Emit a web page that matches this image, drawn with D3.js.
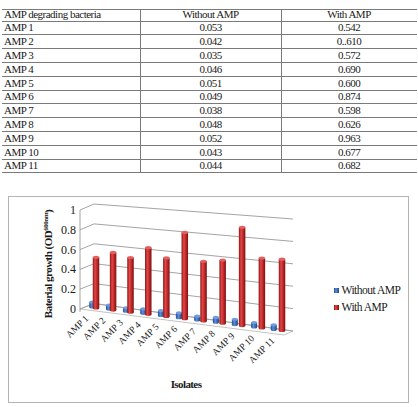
<!DOCTYPE html>
<html>
<head>
<meta charset="utf-8">
<script src="https://cdn.jsdelivr.net/npm/d3@7"></script>
<style>
  html, body { margin: 0; padding: 0; background: #fff; }
  svg { display: block; }
  .serif { font-family: "Liberation Serif", "Times New Roman", serif; fill: #1a1a1a; }
</style>
</head>
<body>
<svg id="chart" width="418" height="407"></svg>
<script>
const isolates = ["AMP 1", "AMP 2", "AMP 3", "AMP 4", "AMP 5", "AMP 6", "AMP 7", "AMP 8", "AMP 9", "AMP 10", "AMP 11"];
const withoutAmp = [0.053, 0.042, 0.035, 0.046, 0.051, 0.049, 0.038, 0.048, 0.052, 0.043, 0.044];
const withAmp = [0.542, 0.610, 0.572, 0.690, 0.600, 0.874, 0.598, 0.626, 0.963, 0.677, 0.682];
const seriesNames = ["Without AMP", "With AMP"];
const tableHeader = ["AMP degrading bacteria", "Without AMP", "With AMP"];
const yTicks = [0, 0.2, 0.4, 0.6, 0.8, 1];

const svg = d3.select("#chart");
const fmt = d3.format(".3f");

// ---------- table ----------
const colX = [2, 140, 281, 417];
const rowY = d3.scaleLinear().domain([0, isolates.length]).range([20.5, 172.3]);
const table = svg.append("g");

// horizontal rules
const ruleYs = [9].concat(d3.range(isolates.length + 1).map(i => rowY(i)));
table.selectAll("line.h").data(ruleYs).join("line")
    .attr("x1", colX[0]).attr("x2", colX[3])
    .attr("y1", d => Math.round(d) + 0.5).attr("y2", d => Math.round(d) + 0.5)
    .attr("stroke", "#7a7a7a").attr("stroke-width", 1);

// column dividers
table.selectAll("line.v").data([colX[1], colX[2]]).join("line")
    .attr("x1", d => d + 0.5).attr("x2", d => d + 0.5)
    .attr("y1", 9.5).attr("y2", Math.round(rowY(isolates.length)) + 0.5)
    .attr("stroke", "#7a7a7a");

function cellText(x, y, txt, anchor) {
    table.append("text").attr("class", "serif")
        .attr("x", x).attr("y", y)
        .attr("text-anchor", anchor)
        .attr("font-size", 11).attr("letter-spacing", "-0.5px")
        .text(txt);
}
cellText(4, 18, tableHeader[0], "start");
cellText((colX[1] + colX[2]) / 2, 18, tableHeader[1], "middle");
cellText((colX[2] + colX[3]) / 2, 18, tableHeader[2], "middle");

isolates.forEach((name, i) => {
    const y = (rowY(i) + rowY(i + 1)) / 2 + 4;
    cellText(4, y, name, "start");
    cellText((colX[1] + colX[2]) / 2, y, fmt(withoutAmp[i]), "middle");
    // the source table prints this value with a double dot
    cellText((colX[2] + colX[3]) / 2, y, i === 1 ? "0..610" : fmt(withAmp[i]), "middle");
});

// ---------- chart ----------
const chart = svg.append("g");
chart.append("rect")
    .attr("x", 8.5).attr("y", 196.5).attr("width", 400).attr("height", 206)
    .attr("fill", "#fff").attr("stroke", "#b4b4b4");

// perspective helpers
const warp = u => 0.9 * u + 0.1 * u * u;
const band = d3.scaleBand().domain(isolates).range([0, 1]);
const xPx = d3.scaleLinear().domain([0, 1]).range([85.6, 290.2]);
const basePx = d3.scaleLinear().domain([0, 1]).range([307, 331.6]);
const unitPx = d3.scaleLinear().domain([0, 1]).range([93, 105]);
const yLeft = d3.scaleLinear().domain([0, 1]).range([309, 210]);
const yBackL = d3.scaleLinear().domain([0, 1]).range([303.5, 204]);
const yBackR = d3.scaleLinear().domain([0, 1]).range([331, 219]);
const wallX = 80, backX0 = 94, backX1 = 293;

// floor
chart.append("path")
    .attr("d", d3.line()([[wallX, yLeft(0)], [backX0, yBackL(0)], [backX1, yBackR(0)], [284, 335]]) + "Z")
    .attr("fill", "#fff").attr("stroke", "#c4c4c4");

// gridlines: side wall + back wall
const grid = chart.append("g").attr("fill", "none").attr("stroke", "#9a9a9a").attr("stroke-width", 0.9);
grid.selectAll("path").data(yTicks).join("path")
    .attr("d", v => d3.line()([[wallX, yLeft(v)], [backX0, yBackL(v)], [backX1, yBackR(v)]]));
grid.append("line")
    .attr("x1", wallX).attr("x2", wallX)
    .attr("y1", yLeft(1)).attr("y2", yLeft(0) + 3);

// tick labels
chart.selectAll("text.ytick").data(yTicks).join("text")
    .attr("class", "serif")
    .attr("x", 76).attr("y", v => yLeft(v) + 4)
    .attr("text-anchor", "end").attr("font-size", 12)
    .text(v => d3.format("~g")(v));

// cylinder gradients
const defs = svg.append("defs");
function cylGrad(id, stops) {
    const g = defs.append("linearGradient").attr("id", id).attr("x1", "0%").attr("x2", "100%");
    stops.forEach(([o, c]) => g.append("stop").attr("offset", o).attr("stop-color", c));
}
cylGrad("redBody", [["0%", "#8e1414"], ["35%", "#e04848"], ["55%", "#d03030"], ["100%", "#7a1010"]]);
cylGrad("blueBody", [["0%", "#1d4f9a"], ["40%", "#5b8fd6"], ["100%", "#1c4585"]]);

const seriesStyle = [
    { values: withoutAmp, body: "url(#blueBody)", top: "#6f9be0", width: 6, offset: -1 },
    { values: withAmp, body: "url(#redBody)", top: "#e46060", width: 6.5, offset: 1 }
];

function drawCylinder(g, cx, base, h, w, body, top) {
    const rx = w / 2, ry = 1.6;
    g.append("ellipse").attr("cx", cx).attr("cy", base).attr("rx", rx).attr("ry", ry).attr("fill", body);
    g.append("rect").attr("x", cx - rx).attr("y", base - h).attr("width", w).attr("height", h).attr("fill", body);
    g.append("ellipse").attr("cx", cx).attr("cy", base - h).attr("rx", rx).attr("ry", ry).attr("fill", top);
}

const bars = chart.append("g");
isolates.forEach((name, i) => {
    const w = warp(band(name) + band.bandwidth() / 2);
    const g = xPx(w);
    const base = basePx(w);
    const unit = unitPx(w);
    const gap = 3.5 + 5 * w;
    seriesStyle.forEach((s, k) => {
        const cx = k === 0 ? g + 2 - gap : g + 2;
        const b = k === 0 ? base - 1 : base;
        drawCylinder(bars, cx, b, s.values[i] * unit, s.width, s.body, s.top);
    });
    // category label
    chart.append("text").attr("class", "serif")
        .attr("transform", `translate(${g - 5},${base + 11}) rotate(-45)`)
        .attr("text-anchor", "end").attr("font-size", 9.5)
        .text(name);
});

// axis titles
chart.append("text").attr("class", "serif")
    .attr("transform", "translate(52,264) rotate(-90)")
    .attr("text-anchor", "middle").attr("font-size", 11).attr("font-weight", "bold")
    .attr("letter-spacing", "-0.5px")
    .call(t => {
        t.append("tspan").text("Baterial growth (OD");
        t.append("tspan").attr("font-size", 7).attr("dy", -4).text("600nm");
        t.append("tspan").attr("dy", 4).text(")");
    });

chart.append("text").attr("class", "serif")
    .attr("x", 186).attr("y", 388)
    .attr("text-anchor", "middle").attr("font-size", 11).attr("font-weight", "bold")
    .attr("letter-spacing", "-0.6px")
    .text("Isolates");

// legend
const legend = chart.append("g");
seriesNames.forEach((name, k) => {
    const y = 288 + k * 17;
    legend.append("rect").attr("x", 334).attr("y", y).attr("width", 5).attr("height", 5)
        .attr("fill", k === 0 ? "url(#blueBody)" : "url(#redBody)");
    legend.append("text").attr("class", "serif")
        .attr("x", 341.5).attr("y", y + 6)
        .attr("font-size", 11.5).attr("letter-spacing", "-0.5px")
        .text(name);
});
</script>
</body>
</html>
